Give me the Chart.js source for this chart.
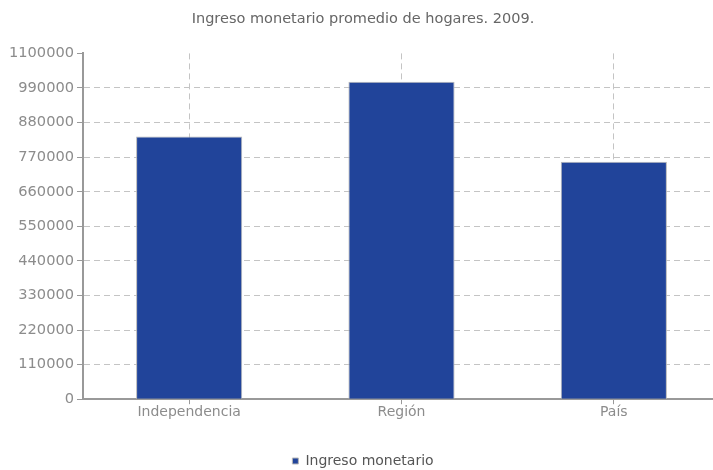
<!DOCTYPE html>
<html>
<head>
<meta charset="utf-8">
<script src="https://cdn.jsdelivr.net/npm/chart.js@4/dist/chart.umd.min.js"></script>
<style>
  html, body { margin: 0; padding: 0; background: #fff; overflow: hidden; }
  /* oriģinālais zīmējums ir platāks par logu un labajā pusē nogriezts */
  #wrap { width: 740px; height: 470px; }
</style>
</head>
<body>
<div id="wrap"><canvas id="grafiks"></canvas></div>
<script>
// dati no attēla
const kategorijas = ['Independencia', 'Región', 'País'];
const ienakumi = [836000, 1010000, 755000];
const yMin = 0;
const yMax = 1100000;
const ySolis = 110000;

const krasas = {
    stabini: '#21449a',
    robeza: '#b8b8b8',
    teksts: '#8c8c8c',
    virsraksts: '#666666',
    rezgis: '#c4c4c4',
    ass: '#999999'
};

Chart.defaults.font.family = '"DejaVu Sans", Verdana, sans-serif';

new Chart(document.getElementById('grafiks'), {
    type: 'bar',
    data: {
        labels: kategorijas,
        datasets: [{
            label: 'Ingreso monetario',
            data: ienakumi,
            backgroundColor: krasas.stabini,
            borderColor: krasas.robeza,
            borderWidth: 1,
            barPercentage: 1,
            categoryPercentage: 0.5
        }]
    },
    options: {
        responsive: true,
        maintainAspectRatio: false,
        animation: false,
        layout: { padding: { left: 6, right: 20, top: 4, bottom: -8 } },
        plugins: {
            title: {
                display: true,
                text: 'Ingreso monetario promedio de hogares. 2009.',
                color: krasas.virsraksts,
                font: { size: 14.5, weight: 'normal' },
                padding: { top: 7, bottom: 25 }
            },
            legend: {
                position: 'bottom',
                labels: {
                    color: '#555',
                    font: { size: 14 },
                    boxWidth: 6,
                    boxHeight: 6,
                    padding: 6
                }
            },
            tooltip: { enabled: false }
        },
        scales: {
            y: {
                min: yMin,
                max: yMax,
                ticks: {
                    stepSize: ySolis,
                    color: krasas.teksts,
                    font: { size: 14.6 },
                    padding: 3,
                    callback: (v) => String(v)
                },
                grid: {
                    color: (c) => c.tick && c.tick.value === yMax ? 'rgba(0,0,0,0)' : krasas.rezgis,
                    tickColor: krasas.ass,
                    tickLength: 6,
                    lineWidth: 1
                },
                border: { color: krasas.ass, width: 2, dash: [6, 4] }
            },
            x: {
                ticks: {
                    color: krasas.teksts,
                    font: { size: 14 },
                    padding: 0
                },
                grid: {
                    offset: false,
                    color: krasas.rezgis,
                    tickColor: krasas.ass,
                    tickLength: 5
                },
                border: { color: krasas.ass, width: 2, dash: [6, 4] },
                // vieta starp ass nosaukumiem un leģendu
                afterFit: (ass) => { ass.height += 27; }
            }
        }
    }
});
</script>
</body>
</html>
